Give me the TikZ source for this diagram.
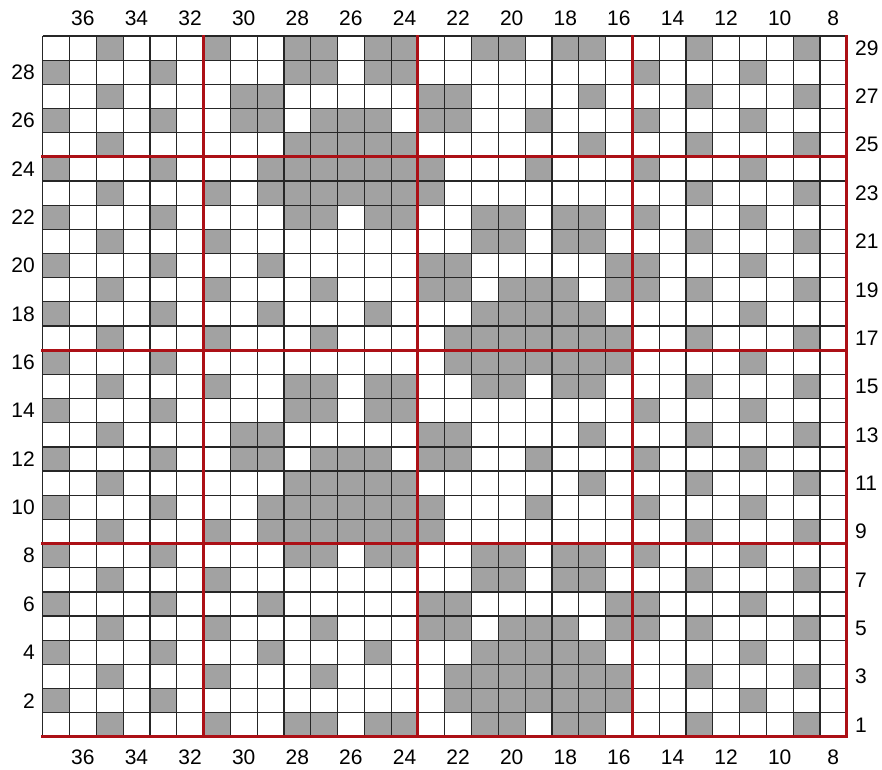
\documentclass[tikz,border=0pt]{standalone}
\usepackage{fontspec}
\setmainfont{Liberation Sans}
\definecolor{cellgrey}{RGB}{162,162,162}
\definecolor{chartred}{RGB}{172,16,22}
\begin{document}
\begin{tikzpicture}[x=1pt,y=-1pt,
  lbl/.style={font=\fontsize{21}{25}\selectfont, inner sep=0pt, text=black},
  gridline/.style={line width=1.2pt, black!85},
  redline/.style={line width=3pt, chartred, line cap=rect}]
\useasboundingbox (0,0) rectangle (882,769);
\def\XO{42.7}\def\YO{36}\def\CW{26.8}\def\RH{24.17}
% grey cells: row / columns (columns numbered 37 left .. 8 right)
\foreach \r/\cols in {
  29/{35,31,28,27,25,24,21,20,18,17,13,9},
  28/{37,33,28,27,25,24,15,11},
  27/{35,30,29,23,22,17,13,9},
  26/{37,33,30,29,27,26,25,23,22,19,15,11},
  25/{35,28,27,26,25,24,17,13,9},
  24/{37,33,29,28,27,26,25,24,23,19,15,11},
  23/{35,31,29,28,27,26,25,24,23,13,9},
  22/{37,33,28,27,25,24,21,20,18,17,15,11},
  21/{35,31,21,20,18,17,13,9},
  20/{37,33,29,23,22,16,15,11},
  19/{35,31,27,23,22,20,19,18,16,15,13,9},
  18/{37,33,29,25,21,20,19,18,17,11},
  17/{35,31,27,22,21,20,19,18,17,16,13,9},
  16/{37,33,22,21,20,19,18,17,16,11},
  15/{35,31,28,27,25,24,21,20,18,17,13,9},
  14/{37,33,28,27,25,24,15,11},
  13/{35,30,29,23,22,17,13,9},
  12/{37,33,30,29,27,26,25,23,22,19,15,11},
  11/{35,28,27,26,25,24,17,13,9},
  10/{37,33,29,28,27,26,25,24,23,19,15,11},
  9/{35,31,29,28,27,26,25,24,23,13,9},
  8/{37,33,28,27,25,24,21,20,18,17,15,11},
  7/{35,31,21,20,18,17,13,9},
  6/{37,33,29,23,22,16,15,11},
  5/{35,31,27,23,22,20,19,18,16,15,13,9},
  4/{37,33,29,25,21,20,19,18,17,11},
  3/{35,31,27,22,21,20,19,18,17,16,13,9},
  2/{37,33,22,21,20,19,18,17,16,11},
  1/{35,31,28,27,25,24,21,20,18,17,13,9}}{
  \foreach \c in \cols {
    \fill[cellgrey] ({\XO+(37-\c)*\CW},{\YO+(29-\r)*\RH}) rectangle ++(\CW,\RH);
  }
}
% thin grid
\foreach \i in {0,...,30}
  \draw[gridline] ({\XO+\i*\CW},\YO) -- ({\XO+\i*\CW},{\YO+29*\RH});
\foreach \j in {0,...,29}
  \draw[gridline] (\XO,{\YO+\j*\RH}) -- ({\XO+30*\CW},{\YO+\j*\RH});
% red dividers
\foreach \i in {6,14,22,30}
  \draw[redline] ({\XO+\i*\CW},\YO) -- ({\XO+\i*\CW},{\YO+29*\RH});
\foreach \j in {5,13,21,29}
  \draw[redline] (\XO,{\YO+\j*\RH}) -- ({\XO+30*\CW},{\YO+\j*\RH});
% column numbers
\foreach \n in {36,34,...,8} {
  \node[lbl] (t\n) at ({\XO+(37.5-\n)*\CW},18) {\n};
  \node[lbl] (b\n) at ({\XO+(37.5-\n)*\CW},757) {\n};
}
% row numbers
\foreach \n in {28,26,...,2}
  \node[lbl,anchor=east] (l\n) at (35,{\YO+(29.5-\n)*\RH}) {\n};
\foreach \n in {29,27,...,1}
  \node[lbl,anchor=west] (r\n) at (855,{\YO+(29.5-\n)*\RH}) {\n};
\end{tikzpicture}
\end{document}
